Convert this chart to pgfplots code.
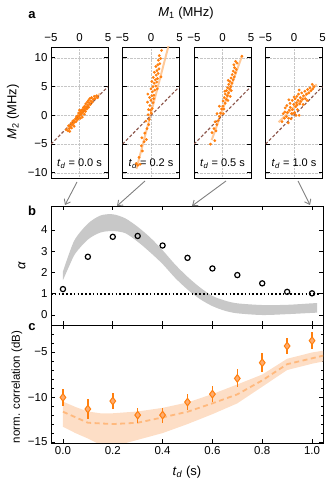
\documentclass[border=0pt]{standalone}
\usepackage{fontspec}
\setmainfont{Liberation Sans}
\usepackage{pgfplots}
\pgfplotsset{compat=1.18}
\usepgfplotslibrary{fillbetween}
\usetikzlibrary{arrows.meta}

\definecolor{dotor}{RGB}{255,127,14}
\definecolor{fitor}{RGB}{255,192,135}
\definecolor{diagbr}{RGB}{140,86,75}
\definecolor{bandgr}{RGB}{200,200,200}
\definecolor{bandor}{RGB}{253,222,198}
\definecolor{dashor}{RGB}{255,185,125}
\definecolor{diafill}{RGB}{255,172,110}

\newcommand{\tkf}{\fontsize{11.5}{13}\selectfont}
\newcommand{\lbf}{\fontsize{13}{15}\selectfont}

\tikzset{tdlab/.style={font=\fontsize{11}{13}\selectfont, anchor=base}}

\pgfplotsset{
  every axis/.append style={scale only axis, anchor=south west,
    axis line style={line width=0.9pt},
    tick style={line width=0.9pt, black},
    major tick length=4pt, minor tick length=2.5pt,
    tick label style={font=\tkf},
    /pgf/number format/assume math mode=true},
  pa/.style={width=57pt, height=131pt, xmin=-5, xmax=5, ymin=-10.9, ymax=11.9,
    xtick={-5,0,5}, xticklabels={−5,0,5}, xticklabel pos=upper,
    xticklabel style={yshift=2pt},
    xtick style={draw=none},
    ytick={-10,-5,0,5,10}, yticklabels={},
    grid=major, grid style={densely dotted, gray!45, line width=0.6pt}},
  pts/.style={only marks, mark=*, mark size=1.2pt, dotor},
  fit/.style={fitor, line width=2pt, opacity=0.85},
  diag/.style={diagbr, line width=1.1pt, dash pattern=on 3pt off 2pt},
}

\begin{document}
\begin{tikzpicture}
\path (0pt,0pt) rectangle (332pt,486pt);

% ---- panel a ----
\begin{axis}[pa, at={(51pt,308pt)}, yticklabels={−10,−5,0,5,10}]
\addplot[pts] coordinates {
(-2.3,-2.5) (-2.0,-2.7) (-1.9,-1.8) (-1.8,-2.3) (-1.6,-2.0) (-1.5,-1.4)
(-1.4,-2.2) (-1.3,-1.7) (-1.2,-1.0) (-1.1,-1.5) (-1.0,-0.9) (-0.95,-1.9)
(-0.85,-1.2) (-0.7,-0.6) (-0.6,-1.1) (-0.55,-0.3) (-0.4,-0.8) (-0.35,-0.1)
(-0.2,-0.6) (-0.15,0.4) (-0.05,-0.2) (0.05,0.2) (0.15,-0.5) (0.2,0.6)
(0.3,0.1) (0.35,0.9) (0.45,0.4) (0.5,-0.3) (0.55,1.0) (0.65,0.6) (0.7,1.4)
(0.8,0.9) (0.85,0.2) (0.9,1.6) (1.0,1.2) (1.05,0.7) (1.1,2.0) (1.2,1.5)
(1.3,1.1) (1.35,2.3) (1.45,1.8) (1.55,2.6) (1.6,1.4) (1.7,2.2) (1.8,2.9)
(1.9,1.9) (2.0,2.5) (2.1,3.1) (2.25,2.3) (2.4,2.8) (2.6,3.3) (2.75,2.9)
(3.0,3.4) (3.2,3.1) (-1.7,-2.8) (0.0,0.9)
};
\addplot[fit] coordinates {(-2.5,-2.6) (3.6,3.8)};
\addplot[diag] coordinates {(-5,-5) (5,5)};
\node[tdlab] at (axis cs:0,-10.9) [yshift=11pt] {\textit{t}\textsubscript{\textit{d}} = 0.0 s};
\end{axis}

\begin{axis}[pa, at={(122.5pt,308pt)}]
\addplot[pts] coordinates {
(-2.3,-8.7) (-1.9,-8.5) (-2.6,-8.4) (-2.1,-7.3) (-1.5,-6.2) (-1.7,-5.3)
(-1.2,-4.6) (-1.6,-3.9) (-0.8,-4.2) (-1.1,-3.1) (-0.7,-2.3) (-0.4,-1.6)
(-0.9,-1.0) (-0.3,-0.7) (-0.5,0.1) (0.05,0.4) (-0.45,1.0) (0.2,1.2)
(-0.2,1.7) (-0.6,2.3) (0.0,2.6) (0.35,2.2) (-0.25,3.1) (0.15,3.4)
(-0.55,3.7) (0.5,3.5) (0.25,4.1) (0.0,4.6) (0.65,4.4) (0.35,5.0) (0.85,5.1)
(0.55,5.6) (0.15,5.9) (1.0,5.8) (0.75,6.2) (0.4,6.6) (1.15,6.4) (0.9,7.0)
(0.6,7.5) (1.25,7.3) (1.05,7.8) (1.4,8.1) (0.85,8.5) (1.2,8.8) (1.55,9.0)
(1.3,9.6) (1.7,9.9) (1.45,10.4) (1.85,11.3) (1.75,6.7) (1.1,4.6) (0.45,2.9)
(-0.1,0.9)
};
\addplot[fit] coordinates {(-2.55,-9.3) (3.1,12.2)};
\addplot[diag] coordinates {(-5,-5) (5,5)};
\node[tdlab] at (axis cs:0,-10.9) [yshift=11pt] {\textit{t}\textsubscript{\textit{d}} = 0.2 s};
\end{axis}

\begin{axis}[pa, at={(194pt,308pt)}]
\addplot[pts] coordinates {
(-2.1,-5.0) (-1.35,-4.4) (-1.85,-3.0) (-1.5,-2.3) (-1.15,-2.7) (-1.0,-1.6)
(-1.3,-1.1) (-0.75,-0.9) (-0.55,-0.2) (-0.95,0.3) (-0.35,0.4) (-0.15,1.1)
(-0.55,1.6) (0.05,1.6) (0.25,1.1) (0.1,2.5) (0.45,2.1) (0.3,3.1) (0.65,2.8)
(0.5,3.7) (0.85,3.4) (0.7,4.3) (1.05,3.9) (0.9,4.8) (1.25,4.6) (1.1,5.4)
(1.45,5.0) (1.3,5.9) (1.65,5.6) (1.5,6.5) (1.85,6.2) (1.7,7.1) (2.05,6.7)
(1.9,7.7) (2.25,7.4) (2.1,8.3) (2.4,8.0) (2.0,8.8) (2.55,9.1) (3.4,10.3)
(1.35,3.3) (0.4,4.2) (0.95,2.6) (1.55,4.3) (0.15,0.3) (2.3,9.4) (1.0,6.1)
};
\addplot[fit] coordinates {(-1.9,-4.3) (3.45,10.4)};
\addplot[diag] coordinates {(-5,-5) (5,5)};
\node[tdlab] at (axis cs:0,-10.9) [yshift=11pt] {\textit{t}\textsubscript{\textit{d}} = 0.5 s};
\end{axis}

\begin{axis}[pa, at={(265.5pt,308pt)}]
\addplot[pts] coordinates {
(-2.1,-1.1) (-1.7,-0.5) (-1.9,0.3) (-1.35,-0.2) (-1.55,1.3) (-1.15,0.5)
(-1.25,1.7) (-0.95,-0.5) (-0.85,0.9) (-0.7,2.1) (-0.65,1.4) (-0.45,0.3)
(-0.3,2.6) (-0.25,1.0) (-0.05,1.9) (0.1,0.5) (0.2,2.9) (0.3,1.5) (0.4,2.2)
(0.5,3.3) (0.6,1.0) (0.7,2.6) (0.8,3.7) (0.9,0.0) (1.0,2.0) (1.1,3.1)
(1.2,2.4) (1.35,3.9) (1.5,2.8) (1.65,3.4) (1.9,4.2) (2.0,2.9) (2.2,3.7)
(2.4,4.5) (2.6,3.9) (2.8,4.8) (3.0,4.3) (3.2,5.4) (3.5,5.0) (3.3,4.6)
(-1.0,-1.3) (-0.5,-0.6) (0.0,3.2) (-0.9,2.7) (0.35,0.0) (1.6,1.9)
(2.3,2.6) (0.9,4.4) (-1.6,0.6) (0.55,1.8) (-0.2,0.3)
};
\addplot[fit] coordinates {(-2.7,-1.2) (4.0,5.4)};
\addplot[diag] coordinates {(-5,-5) (5,5)};
\node[tdlab] at (axis cs:0,-10.9) [yshift=11pt] {\textit{t}\textsubscript{\textit{d}} = 1.0 s};
\end{axis}

% ---- panel b ----
\begin{axis}[at={(51pt,161pt)}, width=272pt, height=119pt,
  xmin=-0.048, xmax=1.044, ymin=-0.47, ymax=5.13,
  xtick={0,0.2,0.4,0.6,0.8,1.0}, xticklabels={},
  ytick={0,1,2,3,4}]
\addplot[name path=bup, draw=none, smooth] coordinates {
(0.0,2.05) (0.025,2.9) (0.05,3.6) (0.1,4.3) (0.15,4.68) (0.2,4.74)
(0.25,4.55) (0.3,4.15) (0.35,3.65) (0.4,3.05) (0.45,2.38) (0.5,1.8)
(0.55,1.3) (0.6,0.9) (0.65,0.68) (0.7,0.55) (0.8,0.47) (0.9,0.48)
(1.0,0.55) (1.02,0.56)
};
\addplot[name path=blo, draw=none, smooth] coordinates {
(0.0,1.64) (0.025,2.3) (0.05,2.9) (0.1,3.55) (0.15,3.88) (0.2,3.95)
(0.25,3.85) (0.3,3.45) (0.35,2.95) (0.4,2.4) (0.45,1.75) (0.5,1.2)
(0.55,0.75) (0.6,0.42) (0.65,0.2) (0.7,0.08) (0.8,0.0) (0.9,0.04)
(1.0,0.1) (1.02,0.11)
};
\addplot[bandgr] fill between[of=bup and blo];
\addplot[black, line width=1.6pt, dash pattern=on 1.6pt off 2.2pt] coordinates {(-0.048,1) (1.03,1)};
\addplot[only marks, mark=o, mark size=2.6pt, mark options={line width=1.2pt, fill=white}, black] coordinates {
(0.0,1.22) (0.1,2.74) (0.2,3.68) (0.3,3.72) (0.4,3.27) (0.5,2.69)
(0.6,2.19) (0.7,1.88) (0.8,1.49) (0.9,1.09) (1.0,1.02)
};
\end{axis}

% ---- panel c ----
\begin{axis}[at={(51pt,43pt)}, width=272pt, height=118pt,
  xmin=-0.048, xmax=1.044, ymin=-15.1, ymax=-2,
  xtick={0,0.2,0.4,0.6,0.8,1.0}, xticklabels={0.0,0.2,0.4,0.6,0.8,1.0},
  ytick={-15,-10,-5}, yticklabels={−15,−10,−5},
  minor ytick={-14,-13,-12,-11,-9,-8,-7,-6,-4,-3}]
\addplot[name path=cup, draw=none] coordinates {
(0.0,-10.5) (0.05,-11.1) (0.1,-11.6) (0.15,-11.8) (0.2,-11.8) (0.3,-11.6)
(0.4,-11.2) (0.5,-10.6) (0.6,-9.67) (0.7,-8.6) (0.8,-7.5) (0.9,-5.75)
(1.0,-5.05) (1.045,-4.85)
};
\addplot[name path=clo, draw=none] coordinates {
(0.0,-13.3) (0.05,-14.0) (0.1,-14.6) (0.15,-15.3) (0.2,-15.5) (0.3,-14.75)
(0.4,-14.0) (0.5,-13.0) (0.6,-11.9) (0.7,-10.7) (0.8,-8.85) (0.9,-7.0)
(1.0,-6.3) (1.045,-6.05)
};
\addplot[bandor] fill between[of=cup and clo];
\addplot[dashor, line width=1.8pt, dash pattern=on 5pt off 3.5pt] coordinates {
(0.0,-11.63) (0.1,-12.85) (0.2,-13.0) (0.3,-12.85) (0.4,-12.26) (0.5,-11.63)
(0.6,-10.7) (0.7,-9.7) (0.8,-8.15) (0.9,-6.35) (1.0,-5.7) (1.045,-5.4)
};
\addplot[only marks, mark=diamond*, mark size=3.8pt, dotor,
  mark options={fill=diafill, line width=1pt},
  error bars/.cd, y dir=both, y explicit,
  error bar style={line width=1.5pt, dotor}, error mark=none] coordinates {
(0.0,-10.04) +- (0,0.96)
(0.1,-11.33) +- (0,1.07)
(0.2,-10.44) +- (0,0.93)
(0.3,-12.0) +- (0,0.83)
(0.4,-12.0) +- (0,0.83)
(0.5,-10.56) +- (0,0.93)
(0.6,-9.67) +- (0,0.9)
(0.7,-7.93) +- (0,1.0)
(0.8,-6.19) +- (0,1.05)
(0.9,-4.33) +- (0,0.9)
(1.0,-3.74) +- (0,0.93)
};
\end{axis}

% ---- labels and arrows ----
\node[font=\lbf\bfseries] at (32pt,471pt) {a};
\node[font=\lbf\bfseries] at (32pt,275pt) {b};
\node[font=\lbf\bfseries] at (32pt,159pt) {c};
\node[font=\lbf] at (186pt,473pt) {\textit{M}\textsubscript{1} (MHz)};
\node[font=\lbf, rotate=90] at (13pt,374pt) {\textit{M}\textsubscript{2} (MHz)};
\node[font=\lbf, rotate=90] at (22pt,220pt) {\textit{α}};
\node[font=\fontsize{11.5}{13}\selectfont, rotate=90] at (17pt,99pt) {norm. correlation (dB)};
\node[font=\lbf] at (187pt,14pt) {\textit{t}\textsubscript{\textit{d}} (s)};
\begin{scope}[gray, line width=0.9pt, -{Straight Barb[length=4.5pt,width=7pt]}]
\draw (77pt,304pt) -- (65pt,281pt);
\draw (145pt,305pt) -- (117pt,280pt);
\draw (226pt,305pt) -- (192pt,280pt);
\draw (298pt,305pt) -- (310pt,281pt);
\end{scope}
\end{tikzpicture}
\end{document}
